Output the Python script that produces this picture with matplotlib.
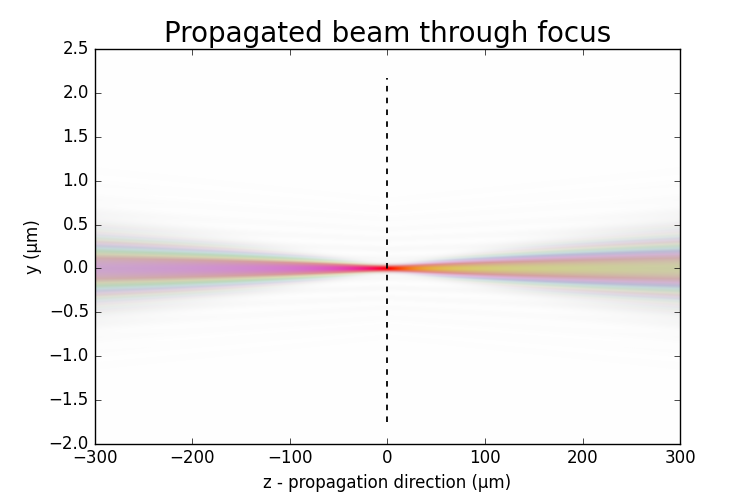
import numpy as np
import matplotlib
matplotlib.use("Agg")
import matplotlib.pyplot as plt
from matplotlib.colors import hsv_to_rgb

plt.style.use("classic")

# beam parameters (um)
z_range = [-300, 300]
y_range = [-2.0, 2.5]
waist = 0.03          # half width at focus
rayleigh = 33.0       # range over which the waist grows by sqrt(2)
gouy_scale = 0.75     # how far the hue turns through focus
curv_k = 48000.0      # strength of the wavefront curvature phase
focus_line_y = [-1.75, 2.17]
xticks = [-300, -200, -100, 0, 100, 200, 300]
yticks = [-2.0, -1.5, -1.0, -0.5, 0.0, 0.5, 1.0, 1.5, 2.0, 2.5]

nz, ny = 600, 900
z = np.linspace(z_range[0], z_range[1], nz)
y = np.linspace(y_range[0], y_range[1], ny)
Z, Y = np.meshgrid(z, y)

w = waist * np.sqrt(1 + (Z / rayleigh) ** 2)
peak = waist / w
env = np.exp(-(Y / w) ** 2)
phase = gouy_scale * np.arctan(Z / rayleigh) - curv_k * Y ** 2 * Z / (2 * (Z ** 2 + rayleigh ** 2))

hue = (phase / (2 * np.pi)) % 1.0
col = hsv_to_rgb(np.dstack([hue, np.ones_like(hue), np.ones_like(hue)]))

a1 = (peak ** 0.7 * env ** 0.5)[..., None]
gray = 0.66
inner = a1 * col + (1 - a1) * gray
a2 = peak ** 0.15 * env ** 0.45

# faint grey streaks around the beam
spread = 0.7 + 0.3 * np.abs(Z) / 300
u = Y / spread
halo = 0.07 * np.exp(-(u / 0.8) ** 2) * (0.6 + 0.4 * np.cos(2 * np.pi * u / 0.16)) + 0.006
a2 = np.clip(a2 + halo * (1 - a2), 0, 1)[..., None]
img = np.clip(1 - a2 * (1 - inner), 0, 1)

fig = plt.figure(figsize=(7.56, 4.93), dpi=100, facecolor="white")
ax = fig.add_subplot(111)
ax.imshow(img, origin="lower", aspect="auto",
          extent=[z_range[0], z_range[1], y_range[0], y_range[1]],
          interpolation="bilinear")
ax.plot([0, 0], focus_line_y, color="k", linestyle="--", dashes=(4, 4.5), lw=1.3)
ax.set_xlim(z_range)
ax.set_ylim(y_range)
ax.set_xticks(xticks)
ax.set_yticks(yticks)
ax.set_xlabel("z - propagation direction (µm)")
ax.set_ylabel("y (µm)")
ax.set_title("Propagated beam through focus", fontsize=20)

fig.savefig("out.png", dpi=100, facecolor="white")
